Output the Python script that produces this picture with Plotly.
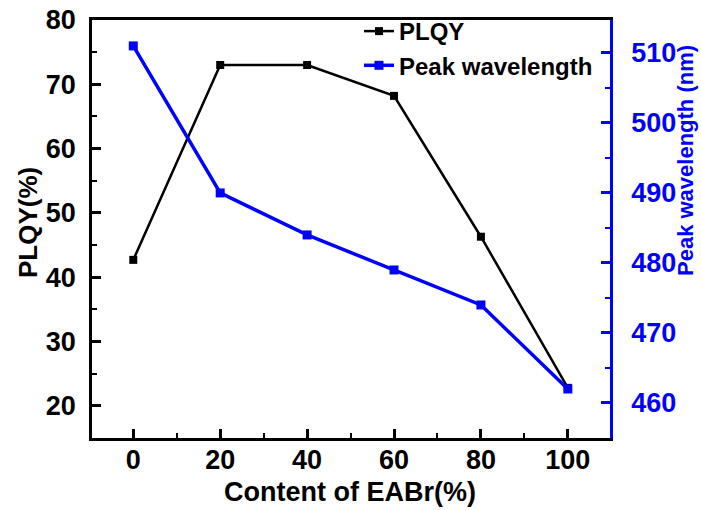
import plotly.graph_objects as go

# EABr content (%) and the two measured responses
content = [0, 20, 40, 60, 80, 100]
plqy = [42.7, 73.0, 73.0, 68.2, 46.3, 22.8]
peak_wavelength = [511.0, 490.0, 484.0, 479.0, 474.0, 462.0]

FONT = "Liberation Sans, Arial, sans-serif"
BLUE = "#0000ff"
W, H = 701, 510
L, R, T, B = 92, 91, 20, 72

fig = go.Figure()

fig.add_trace(go.Scatter(
    x=content, y=plqy, name="PLQY", mode="lines+markers",
    line=dict(color="black", width=2.5),
    marker=dict(symbol="square", size=8, color="black"),
    yaxis="y",
))
fig.add_trace(go.Scatter(
    x=content, y=peak_wavelength, name="Peak wavelength", mode="lines+markers",
    line=dict(color=BLUE, width=3.5),
    marker=dict(symbol="square", size=9, color=BLUE),
    yaxis="y2",
))

plot_w = W - L - R
plot_h = H - T - B


def px_x(px):
    return (px - L) / plot_w


def px_y(py):
    return (H - B - py) / plot_h


fig.update_layout(
    width=W, height=H,
    margin=dict(l=L, r=R, t=T, b=B, autoexpand=False),
    paper_bgcolor="white", plot_bgcolor="white",
    font=dict(family=FONT, size=27, color="black", weight="bold"),
    showlegend=True,
    legend=dict(
        xref="container", yref="container",
        x=359 / W, y=1 - 9 / H, xanchor="left", yanchor="top",
        bgcolor="rgba(0,0,0,0)", borderwidth=0,
        font=dict(size=24, family=FONT, color="black", weight="bold"),
        tracegroupgap=0,
    ),
    xaxis=dict(
        range=[-9.5, 109.7],
        tickvals=[0, 20, 40, 60, 80, 100],
        ticks="inside", ticklen=9, tickwidth=2.5, tickcolor="black",
        minor=dict(dtick=10, ticks="inside", ticklen=5, tickwidth=2, tickcolor="black"),
        showline=True, linecolor="black", linewidth=2.5, mirror=True,
        showgrid=False, zeroline=False,
        tickfont=dict(size=27, family=FONT, color="black", weight="bold"),
        ticklabelstandoff=-4,
    ),
    yaxis=dict(
        range=[15, 80],
        tickvals=[20, 30, 40, 50, 60, 70, 80],
        ticks="inside", ticklen=9, tickwidth=2.5, tickcolor="black",
        minor=dict(dtick=5, ticks="inside", ticklen=5, tickwidth=2, tickcolor="black"),
        showline=True, linecolor="black", linewidth=2.5, mirror=False,
        showgrid=False, zeroline=False,
        tickfont=dict(size=27, family=FONT, color="black", weight="bold"),
        ticklabelstandoff=8,
    ),
    yaxis2=dict(
        range=[455, 514.7],
        overlaying="y", side="right",
        tickvals=[460, 470, 480, 490, 500, 510],
        ticks="inside", ticklen=9, tickwidth=2.5, tickcolor=BLUE,
        minor=dict(dtick=5, ticks="inside", ticklen=5, tickwidth=2, tickcolor=BLUE),
        showline=True, linecolor=BLUE, linewidth=2.5,
        showgrid=False, zeroline=False,
        tickfont=dict(size=27, family=FONT, color=BLUE, weight="bold"),
        ticklabelstandoff=13,
    ),
    annotations=[
        dict(text="Content of EABr(%)", xref="paper", yref="paper",
             x=px_x(350), y=px_y(492), xanchor="center", yanchor="middle",
             showarrow=False,
             font=dict(size=27, family=FONT, color="black", weight="bold")),
        dict(text="PLQY(%)", xref="paper", yref="paper",
             x=px_x(28), y=px_y(223), xanchor="center", yanchor="middle",
             textangle=-90, showarrow=False,
             font=dict(size=26, family=FONT, color="black", weight="bold")),
        dict(text="Peak wavelength (nm)", xref="paper", yref="paper",
             x=px_x(685), y=px_y(161), xanchor="center", yanchor="middle",
             textangle=-90, showarrow=False,
             font=dict(size=22, family=FONT, color=BLUE, weight="bold")),
    ],
)

fig.write_html("out.html")
